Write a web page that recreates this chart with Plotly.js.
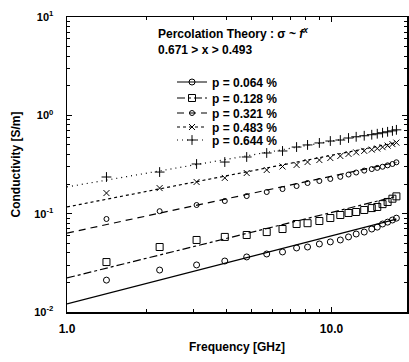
<!DOCTYPE html>
<html>
<head>
<meta charset="utf-8">
<script src="https://cdn.plot.ly/plotly-3.0.1.min.js"></script>
<style>html,body{margin:0;padding:0;background:#fff;}#chart{width:409px;height:362px;}</style>
</head>
<body>
<div id="chart"></div>
<script>
// Frequencies (GHz)
var freq = [1.41, 2.24, 3.09, 3.95, 4.78, 5.69, 6.53, 7.38, 8.12, 9.0, 9.9, 10.8, 11.6, 12.4, 13.3, 14.2, 14.9, 15.6, 16.3, 17.0, 17.6];
// Measured conductivity (S/m)
var s064 = [0.0211, 0.0267, 0.0301, 0.0330, 0.0363, 0.0389, 0.0408, 0.0448, 0.0458, 0.0492, 0.0516, 0.0540, 0.0580, 0.0621, 0.0650, 0.0698, 0.0730, 0.0785, 0.0820, 0.0862, 0.0900];
var s128 = [0.0322, 0.0458, 0.0540, 0.0580, 0.0607, 0.0650, 0.0698, 0.0785, 0.0800, 0.0842, 0.0903, 0.0969, 0.1016, 0.1040, 0.1090, 0.1140, 0.1170, 0.1250, 0.1315, 0.1420, 0.1500];
var s321 = [0.0883, 0.106, 0.1225, 0.1345, 0.151, 0.166, 0.178, 0.191, 0.205, 0.215, 0.2255, 0.237, 0.250, 0.262, 0.274, 0.284, 0.292, 0.300, 0.310, 0.320, 0.333];
var s483 = [0.162, 0.182, 0.210, 0.231, 0.259, 0.278, 0.302, 0.313, 0.335, 0.351, 0.368, 0.386, 0.405, 0.420, 0.435, 0.448, 0.460, 0.475, 0.492, 0.510, 0.528];
var s644 = [0.236, 0.265, 0.320, 0.335, 0.377, 0.414, 0.434, 0.476, 0.500, 0.524, 0.548, 0.561, 0.588, 0.605, 0.620, 0.635, 0.650, 0.665, 0.680, 0.695, 0.712];
// Percolation fit lines: read endpoints (f = 1.0 and f = 17.6 GHz)
var fitF = [1.0, 17.6];
var fit064 = [0.0121, 0.088];
var fit128 = [0.0222, 0.150];
var fit321 = [0.0635, 0.333];
var fit483 = [0.117, 0.528];
var fit644 = [0.187, 0.71];
var labels = ['p = 0.064 %', 'p = 0.128 %', 'p = 0.321 %', 'p = 0.483 %', 'p = 0.644 %'];
var yTickVals = [0.01, 0.1, 1, 10];
var yTickText = ['10<sup>-2</sup>', '10<sup>-1</sup>', '10<sup>0</sup>', '10<sup>1</sup>'];
var xTickVals = [1, 10];
var xTickText = ['1.0', '10.0'];

var data = [s064, s128, s321, s483, s644];
var fits = [fit064, fit128, fit321, fit483, fit644];
var symbols = ['circle-open', 'square-open', 'circle-open', 'x-thin-open', 'cross-thin-open'];
var sizes = [6, 7, 5, 6, 7];
var dashes = ['solid', '8px,3px,3px,3px', '7px,5px', '3px,3px', '1px,4px'];
var legendY = [82, 98, 113, 127, 140];

var traces = [];
var legNames = ['legend', 'legend2', 'legend3', 'legend4', 'legend5'];
for (var i = 0; i < 5; i++) {
  traces.push({x: freq, y: data[i], mode: 'markers', type: 'scatter', showlegend: false,
    marker: {symbol: symbols[i], size: sizes[i], color: '#000', line: {width: 1, color: '#000'}}});
  traces.push({x: fitF, y: fits[i], mode: 'lines', type: 'scatter', showlegend: false,
    line: {color: '#000', width: 1.2, dash: dashes[i]}});
  traces.push({x: [null], y: [null], mode: 'lines+markers', type: 'scatter', name: labels[i],
    legend: legNames[i], showlegend: true,
    line: {color: '#000', width: 1.2, dash: dashes[i]},
    marker: {symbol: symbols[i], size: sizes[i], color: '#000', line: {width: 1, color: '#000'}}});
}

var H = 295, T = 17;
function py(p) { return 1 - (p - T) / H; }
var layout = {
  width: 409, height: 362,
  margin: {l: 67, r: 2, t: 17, b: 50},
  paper_bgcolor: '#fff', plot_bgcolor: '#fff',
  font: {family: 'Liberation Sans, Arial, sans-serif', size: 12, color: '#000'},
  xaxis: {type: 'log', range: [0, Math.log10(19.3)], tickvals: xTickVals, ticktext: xTickText,
    ticks: 'inside', ticklen: 5, tickwidth: 1, tickcolor: '#000',
    showline: true, linecolor: '#000', linewidth: 1.5, mirror: 'allticks', showgrid: false, zeroline: false,
    tickfont: {size: 12, family: 'Liberation Sans, Arial', weight: 'bold'},
    ticklabelstandoff: 5,
    minor: {tickvals: [2,3,4,5,6,7,8,9,20], ticks: 'inside', ticklen: 3, tickcolor: '#000', showgrid: false},
    title: {text: '<b>Frequency [GHz]</b>', font: {size: 12}, standoff: 7}},
  yaxis: {type: 'log', range: [-2, 1], tickvals: yTickVals, ticktext: yTickText,
    ticks: 'inside', ticklen: 5, tickwidth: 1, tickcolor: '#000',
    showline: true, linecolor: '#000', linewidth: 1.5, mirror: 'allticks', showgrid: false, zeroline: false,
    tickfont: {size: 11, family: 'Liberation Sans, Arial', weight: 'bold'},
    ticklabelstandoff: 10,
    minor: {tickvals: [0.02,0.03,0.04,0.05,0.06,0.07,0.08,0.09,0.2,0.3,0.4,0.5,0.6,0.7,0.8,0.9,2,3,4,5,6,7,8,9],
      ticks: 'inside', ticklen: 3, tickcolor: '#000', showgrid: false},
    title: {text: '<b>Conductivity [S/m]</b>', font: {size: 12}, standoff: 11}},
  annotations: [
    {xref: 'paper', yref: 'paper', x: (156 - 67) / 340, y: py(33), xanchor: 'left', yanchor: 'middle', showarrow: false,
      text: '<b>Percolation Theory : σ ~ <i>f</i><sup><i>x</i></sup></b>', font: {size: 12}},
    {xref: 'paper', yref: 'paper', x: (156 - 67) / 340, y: py(50), xanchor: 'left', yanchor: 'middle', showarrow: false,
      text: '<b>0.671 > x > 0.493</b>', font: {size: 12}}
  ]
};
for (var j = 0; j < 5; j++) {
  layout[legNames[j]] = {x: (172 - 67) / 340, y: py(legendY[j]), xanchor: 'left', yanchor: 'middle',
    bgcolor: 'rgba(0,0,0,0)', borderwidth: 0, itemwidth: 30,
    font: {size: 12, family: 'Liberation Sans, Arial', weight: 'bold'}};
}
Plotly.newPlot('chart', traces, layout, {displayModeBar: false, staticPlot: true});
</script>
</body>
</html>
